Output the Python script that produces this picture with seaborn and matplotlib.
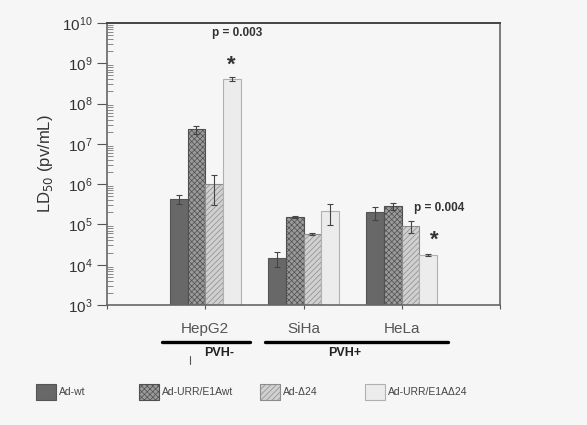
import matplotlib
matplotlib.use("Agg")
import matplotlib.pyplot as plt
import seaborn as sns
import pandas as pd
import numpy as np
from matplotlib.patches import Patch
from matplotlib.lines import Line2D
from matplotlib.container import BarContainer

cell_lines = ["HepG2", "SiHa", "HeLa"]
vectors = ["Ad-wt", "Ad-URR/E1Awt", "Ad-Δ24", "Ad-URR/E1AΔ24"]
ad_wt = [4.3e5, 1.5e4, 2.0e5]
ad_urr_wt = [2.3e7, 1.5e5, 2.9e5]
ad_d24 = [1.0e6, 5.8e4, 9.2e4]
ad_urr_d24 = [4.0e8, 2.1e5, 1.75e4]
err_wt = [1.1e5, 6e3, 7e4]
err_urr_wt = [5e6, 8e3, 6e4]
err_d24 = [7.0e5, 2e3, 3.2e4]
err_urr_d24 = [4.5e7, 1.15e5, 8e2]
p_labels = ["p = 0.003", "p = 0.004"]
group_labels = ["PVH-", "PVH+"]

sns.set_theme(style="white")
plt.rcParams['font.family'] = ['Liberation Sans', 'DejaVu Sans']
plt.rcParams['hatch.linewidth'] = 0.5

values = [ad_wt, ad_urr_wt, ad_d24, ad_urr_d24]
errors = [err_wt, err_urr_wt, err_d24, err_urr_d24]
rows = []
for v, vals, errs in zip(vectors, values, errors):
    for c, val, e in zip(cell_lines, vals, errs):
        rows.append({"cell": c, "vector": v, "LD50": val, "err": e})
df = pd.DataFrame(rows)

bg = "#f6f6f6"
fig = plt.figure(figsize=(5.87, 4.25), dpi=100, facecolor=bg)
ax = fig.add_axes([107/587, 1-305/425, 393/587, 282/425])
ax.set_facecolor(bg)
ax.set_yscale("log")

faces = ["#686868", "#9a9a9a", "#d0d0d0", "#ececec"]
edges = ["#555555", "#505050", "#8c8c8c", "#b0b0b0"]
hatches = [None, "xxxxxx", "//////", None]

sns.barplot(data=df, x="cell", y="LD50", hue="vector", order=cell_lines,
            hue_order=vectors, errorbar=None, width=0.72, ax=ax,
            legend=False, palette=faces, saturation=1)

bar_conts = [c for c in ax.containers if isinstance(c, BarContainer)]
for ci, cont in enumerate(bar_conts):
    for bi, bar in enumerate(cont.patches):
        bar.set_facecolor(faces[ci])
        bar.set_edgecolor(edges[ci])
        bar.set_linewidth(0.8)
        if hatches[ci]:
            bar.set_hatch(hatches[ci])
        xc = bar.get_x() + bar.get_width() / 2
        sub = df[(df.vector == vectors[ci]) & (df.cell == cell_lines[bi])].iloc[0]
        ax.errorbar(xc, sub.LD50, yerr=sub.err, fmt="none", ecolor="#444444",
                    elinewidth=0.8, capsize=2.5, capthick=0.8, zorder=5)

ax.set_ylim(1e3, 1e10)
ax.set_xlim(-1, 3)
ax.set_xticks([-1, 0, 1, 2, 3])
ax.set_xticklabels(["", "HepG2", "SiHa", "HeLa", ""], fontsize=11, color="#555555")
ax.set_xlabel("")
ax.set_ylabel("LD$_{50}$ (pv/mL)", fontsize=12, color="#333333", labelpad=5)
ax.tick_params(axis="x", which="major", direction="out", length=3, width=0.8,
               color="#555555", pad=9, bottom=True)
ax.tick_params(axis="y", which="major", direction="out", length=7, width=0.8,
               color="#555555", labelsize=11, labelcolor="#333333", left=True)
ax.tick_params(axis="y", which="minor", direction="in", length=4, width=0.6,
               color="#777777", left=True)
ax.yaxis.set_major_locator(matplotlib.ticker.LogLocator(base=10, numticks=20))
ax.yaxis.set_minor_locator(matplotlib.ticker.LogLocator(base=10, subs=np.arange(2, 10), numticks=20))
for s in ["left", "bottom", "right"]:
    ax.spines[s].set_color("#666666")
    ax.spines[s].set_linewidth(1.2)
ax.spines["top"].set_color("#444444")
ax.spines["top"].set_linewidth(1.4)

# annotations
hep_top = bar_conts[3].patches[0]
hela_top = bar_conts[3].patches[2]
ax.text(hep_top.get_x() + hep_top.get_width()/2 + 0.05, 10**9.75, p_labels[0],
        ha="center", va="center", fontsize=8.5, fontweight="bold", color="#333333")
ax.text(hep_top.get_x() + hep_top.get_width()/2, 10**8.95, "*",
        ha="center", va="center", fontsize=16, fontweight="bold", color="#333333")
ax.text(2.38, 10**5.4, p_labels[1],
        ha="center", va="center", fontsize=8.5, fontweight="bold", color="#333333")
ax.text(hela_top.get_x() + hela_top.get_width()/2 + 0.06, 10**4.6, "*",
        ha="center", va="center", fontsize=16, fontweight="bold", color="#333333")

# group lines below axis
ylin = 1 - 342/425
fig.add_artist(Line2D([162/587, 250/587], [ylin, ylin], color="black", lw=2.4))
fig.add_artist(Line2D([265/587, 448/587], [ylin, ylin], color="black", lw=2.4))
fig.text(204/587, 1-353/425, group_labels[0], ha="left", va="center",
         fontsize=9, fontweight="bold", color="#222222")
fig.text(345/587, 1-353/425, group_labels[1], ha="center", va="center",
         fontsize=9, fontweight="bold", color="#222222")
fig.add_artist(Line2D([190/587, 190/587], [1-356/425, 1-364/425], color="#555555", lw=0.8))

# legend entries
leg_x = [36, 139, 260, 365]
for i, v in enumerate(vectors):
    h = Patch(facecolor=faces[i], edgecolor=edges[i], hatch=hatches[i], linewidth=0.8)
    lg = fig.legend(handles=[h], labels=[v], loc="center left",
                    bbox_to_anchor=(leg_x[i]/587, 1-392/425), frameon=False,
                    handlelength=1.9, handleheight=1.9, handletextpad=0.35,
                    borderpad=0, borderaxespad=0, fontsize=7.5)
    for t in lg.get_texts():
        t.set_color("#444444")

fig.savefig("out.png", dpi=100, facecolor=bg)
